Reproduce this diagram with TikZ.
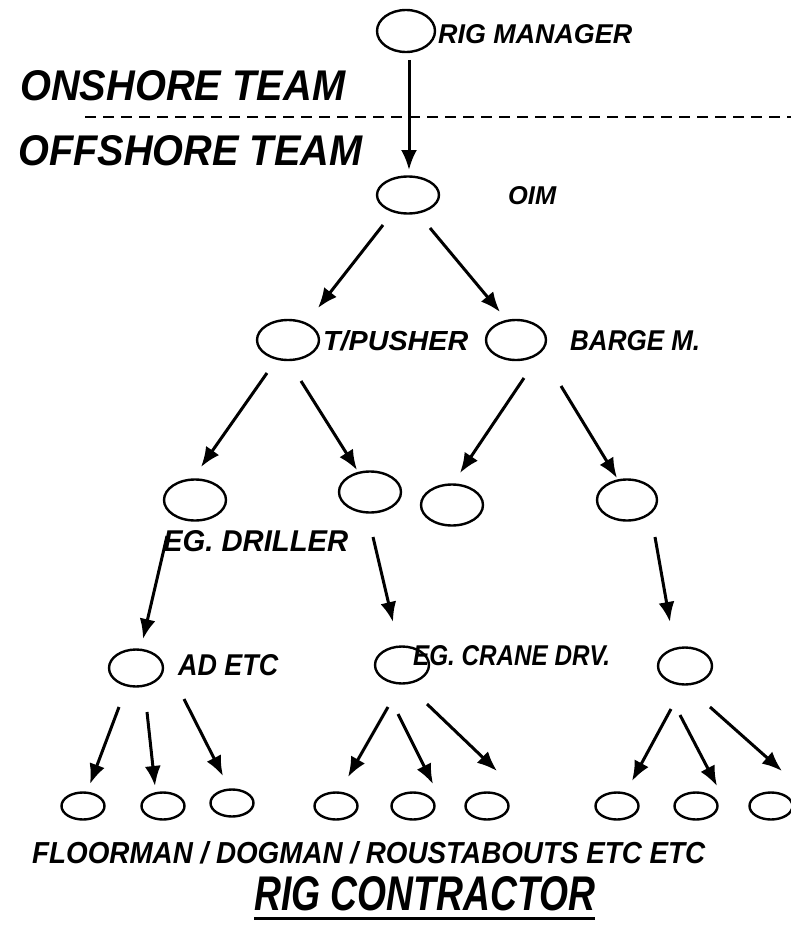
\documentclass[tikz,border=0pt]{standalone}
\usepackage{fontspec}
\usepackage{graphicx}
\usetikzlibrary{shapes.geometric,arrows.meta}
\newfontfamily\lblfont{Liberation Sans}
\newcommand{\fitlbl}[3]{\resizebox{#1pt}{#2pt}{\lblfont\bfseries\itshape #3}}
\tikzset{
  posbox/.style={draw, ellipse, line width=2.4pt, inner sep=0pt},
  bigposbox/.style={posbox, minimum width=62pt, minimum height=41pt},
  midposbox/.style={posbox, minimum width=54pt, minimum height=37pt},
  smallposbox/.style={posbox, minimum width=43pt, minimum height=27pt},
  conn/.style={-{Latex[length=20pt,width=16pt]}, line width=3pt},
  lbltext/.style={inner sep=0pt, anchor=base west},
  divider/.style={dash pattern=on 11pt off 7pt, line width=2.2pt}
}
\begin{document}
\begin{tikzpicture}[x=1pt,y=-1pt]
\useasboundingbox (0,0) rectangle (791,942);
% positions
\node[posbox, minimum width=58pt, minimum height=42pt] (rig) at (406,31) {};
\node[posbox, minimum width=62pt, minimum height=37pt] (oim) at (408,195) {};
\node[bigposbox, minimum height=40pt] (tp) at (288,340) {};
\node[bigposbox, minimum width=60pt, minimum height=40pt] (bm) at (516,340) {};
\node[bigposbox] (a) at (195,500) {};
\node[bigposbox] (b) at (370,492) {};
\node[bigposbox] (c) at (452,505) {};
\node[bigposbox, minimum width=60pt] (d) at (627,500) {};
\node[midposbox] (ad) at (136,668) {};
\node[midposbox] (cr) at (402,665) {};
\node[midposbox] (crb) at (685,666) {};
\node[smallposbox] (f1) at (83,806) {};
\node[smallposbox] (f2) at (163,806) {};
\node[smallposbox] (f3) at (232,803) {};
\node[smallposbox] (f4) at (336,806) {};
\node[smallposbox] (f5) at (413,806) {};
\node[smallposbox] (f6) at (487,806) {};
\node[smallposbox] (f7) at (617,806) {};
\node[smallposbox] (f8) at (696,806) {};
\node[smallposbox] (f9) at (771,806) {};
% labels
\node[lbltext] (tRig) at (438,43) {\fitlbl{194}{19}{RIG MANAGER}};
\node[lbltext] (tOn) at (20,100) {\fitlbl{325}{30}{ONSHORE TEAM}};
\node[lbltext] (tOff) at (18,165) {\fitlbl{344}{30}{OFFSHORE TEAM}};
\node[lbltext] (tOim) at (508,204) {\fitlbl{48}{18}{OIM}};
\node[lbltext] (tTp) at (323,350) {\fitlbl{145}{20}{T/PUSHER}};
\node[lbltext] (tBm) at (570,350) {\fitlbl{130}{20}{BARGE M.}};
\node[lbltext] (tDr) at (163,551) {\fitlbl{185}{21}{EG. DRILLER}};
\node[lbltext] (tAd) at (178,675) {\fitlbl{100}{21}{AD ETC}};
\node[lbltext] (tCr) at (413,665) {\fitlbl{197}{20}{EG. CRANE DRV.}};
\node[lbltext] (tFl) at (32,863) {\fitlbl{673}{22}{FLOORMAN / DOGMAN / ROUSTABOUTS ETC ETC}};
\node[lbltext] (tRc) at (254,910) {\fitlbl{341}{34}{RIG CONTRACTOR}};
\draw[line width=3.5pt] ([yshift=-8pt]tRc.south west) -- ([yshift=-8pt]tRc.south east);
% divider
\coordinate (dashL) at (85,117);
\coordinate (dashR) at (791,117);
\draw[divider] (dashL) -- (dashR);
% connectors
\draw[conn] ([shift={(3,29)}]rig.center) -- ([shift={(1,-25)}]oim.center);
\draw[conn] ([shift={(-25,30)}]oim.center) -- ([shift={(30,-32)}]tp.center);
\draw[conn] ([shift={(22,33)}]oim.center) -- ([shift={(-16,-28)}]bm.center);
\draw[conn] ([shift={(-21,33)}]tp.center) -- ([shift={(6,-33)}]a.center);
\draw[conn] ([shift={(13,41)}]tp.center) -- ([shift={(-13,-22)}]b.center);
\draw[conn] ([shift={(8,38)}]bm.center) -- ([shift={(8,-32)}]c.center);
\draw[conn] ([shift={(45,46)}]bm.center) -- ([shift={(-10,-22)}]d.center);
\draw[conn] ([shift={(-28,36)}]a.center) -- ([shift={(7,-29)}]ad.center);
\draw[conn] ([shift={(3,45)}]b.center) -- ([shift={(-9,-43)}]cr.center);
\draw[conn] ([shift={(28,37)}]d.center) -- ([shift={(-15,-44)}]crb.center);
\draw[conn] ([shift={(-17,39)}]ad.center) -- ([shift={(7,-22)}]f1.center);
\draw[conn] ([shift={(11,44)}]ad.center) -- ([shift={(-8,-20)}]f2.center);
\draw[conn] ([shift={(48,31)}]ad.center) -- ([shift={(-9,-27)}]f3.center);
\draw[conn] ([shift={(-14,42)}]cr.center) -- ([shift={(12,-29)}]f4.center);
\draw[conn] ([shift={(-4,49)}]cr.center) -- ([shift={(20,-22)}]f5.center);
\draw[conn] ([shift={(25,39)}]cr.center) -- ([shift={(10,-35)}]f6.center);
\draw[conn] ([shift={(-14,43)}]crb.center) -- ([shift={(15,-25)}]f7.center);
\draw[conn] ([shift={(-5,49)}]crb.center) -- ([shift={(21,-20)}]f8.center);
\draw[conn] ([shift={(25,41)}]crb.center) -- ([shift={(11,-35)}]f9.center);
\end{tikzpicture}
\end{document}
